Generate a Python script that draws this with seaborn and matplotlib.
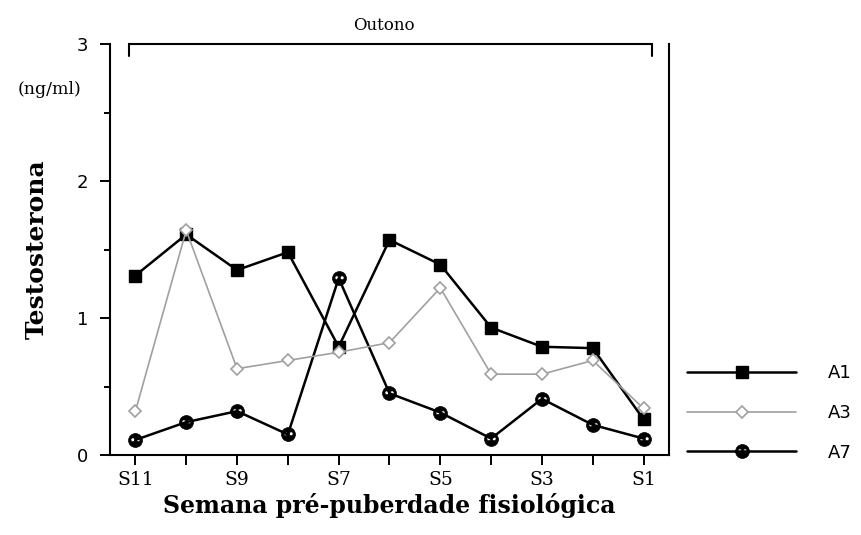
import numpy as np
import pandas as pd
import matplotlib
matplotlib.use("Agg")
import matplotlib.pyplot as plt
import seaborn as sns
from matplotlib.lines import Line2D
from matplotlib.path import Path

weeks = ["S11", "S10", "S9", "S8", "S7", "S6", "S5", "S4", "S3", "S2", "S1"]
tick_labels = ["S11", "", "S9", "", "S7", "", "S5", "", "S3", "", "S1"]
a1 = [1.31, 1.61, 1.35, 1.48, 0.79, 1.57, 1.39, 0.93, 0.79, 0.78, 0.26]
a3 = [0.32, 1.64, 0.63, 0.69, 0.75, 0.82, 1.22, 0.59, 0.59, 0.69, 0.34]
a7 = [0.11, 0.24, 0.32, 0.15, 1.29, 0.45, 0.31, 0.12, 0.41, 0.22, 0.12]
series_names = ["A1", "A3", "A7"]
yticks = [0, 1, 2, 3]
season = "Outono"

sns.set_style("ticks")
plt.rcParams["font.family"] = ["DejaVu Sans"]
plt.rcParams.update({"text.color": "black", "axes.labelcolor": "black",
                     "xtick.color": "black", "ytick.color": "black"})

# custom marker for A7: black disc with two white holes
def _rev(p):
    v = p.vertices.copy()
    return Path(np.vstack([v[:-1][::-1], v[-1:]]), p.codes)

outer = Path.unit_circle()
hole = Path.unit_circle()
h1 = _rev(Path(hole.vertices * 0.28 + np.array([-0.38, 0.1]), hole.codes))
h2 = _rev(Path(hole.vertices * 0.28 + np.array([0.38, 0.1]), hole.codes))
a7_marker = Path.make_compound_path(outer, h1, h2)

fig = plt.figure(figsize=(8.62, 5.35), dpi=100)
ax = fig.add_axes([110 / 862, 80 / 535, 559 / 862, 411 / 535])

pos = np.arange(len(weeks))
df = pd.DataFrame({
    "pos": np.tile(pos, 3),
    "val": a1 + a3 + a7,
    "serie": np.repeat(series_names, len(weeks)),
})

styles = {
    "A1": dict(color="black", linewidth=1.8, marker="s", markersize=9,
               markerfacecolor="black", markeredgecolor="black", markeredgewidth=1),
    "A7": dict(color="black", linewidth=1.8, marker=a7_marker, markersize=10,
               markerfacecolor="black", markeredgecolor="black", markeredgewidth=0.5),
    "A3": dict(color="#a0a0a0", linewidth=1.2, marker="D", markersize=6,
               markerfacecolor="white", markeredgecolor="#a0a0a0", markeredgewidth=1.2),
}

for s in ["A1", "A7", "A3"]:
    sns.lineplot(data=df[df.serie == s], x="pos", y="val", ax=ax, sort=False,
                 legend=False, **styles[s])

ax.set_xlim(-0.5, 10.5)
ax.set_ylim(0, 3)
ax.set_xticks(pos)
ax.set_xticklabels(tick_labels, family="DejaVu Serif", fontsize=13.5)
ax.set_yticks(yticks)
ax.set_yticklabels([str(t) for t in yticks], fontsize=13)
ax.set_yticks([0.5, 1.5, 2.5], minor=True)
ax.tick_params(axis="x", direction="out", length=7.5, width=1.4, pad=4)
ax.tick_params(axis="y", which="major", direction="out", length=7.5, width=1.4, pad=8)
ax.tick_params(axis="y", which="minor", direction="out", length=4.5, width=1.4)
ax.spines["top"].set_visible(False)
for sp in ["left", "right", "bottom"]:
    ax.spines[sp].set_linewidth(1.5)
    ax.spines[sp].set_color("black")

ax.set_xlabel("Semana pré-puberdade fisiológica", family="DejaVu Serif",
              fontweight="bold", fontsize=17, labelpad=3)
ax.set_ylabel("Testosterona", family="DejaVu Serif", fontweight="bold",
              fontsize=18, labelpad=20)

# season bracket
top = yticks[-1]
bx0, bx1 = pos[0] - 0.12, pos[-1] + 0.16
ax.plot([bx0, bx0, bx1, bx1], [top - 0.09, top, top, top - 0.09], color="black",
        linewidth=1.5, clip_on=False, solid_joinstyle="miter")
ax.text((pos[0] + pos[-1]) / 2 - 0.1, top + 0.07, season, ha="center", va="bottom",
        family="DejaVu Serif", fontsize=12)
fig.text(50 / 862, 1 - 90 / 535, "(ng/ml)", ha="center", va="center",
         family="DejaVu Serif", fontsize=12.5)

handles = [Line2D([], [], **styles[s]) for s in series_names]
leg = fig.legend(handles, series_names, loc="center left",
                 bbox_to_anchor=(687 / 862, 1 - 413 / 535), frameon=False,
                 handlelength=6.05, handletextpad=1.75, labelspacing=1.2,
                 fontsize=13, borderaxespad=0, borderpad=0)

fig.savefig("out.png", dpi=100)
